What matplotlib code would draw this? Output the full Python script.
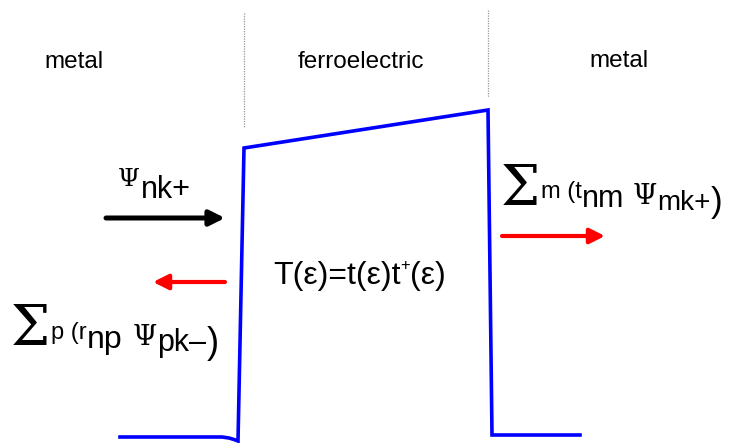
import matplotlib.pyplot as plt

# Potential profile across the metal / ferroelectric / metal junction
profile_x = [120, 222, 229, 234, 238, 244, 488, 492, 580]
profile_y = [437, 437, 438, 439.5, 441, 148, 110, 435, 435]

# Region boundaries (dotted) and region names
boundary_x = [244, 488]
boundary_top = [13, 10]
boundary_bottom = [128, 97]
region_names = ["metal", "ferroelectric", "metal"]
region_x = [74, 361, 619]
region_y = [68, 68, 67]

# Incoming, reflected and transmitted waves
arrow_start = [(106, 218), (225, 282), (502, 236)]
arrow_end = [(225, 218), (153, 282), (605, 236)]
arrow_colors = ["black", "red", "red"]

SERIF = "DejaVu Serif"
SANS = "Liberation Sans"

fig = plt.figure(figsize=(7.37, 4.43), dpi=100)
ax = fig.add_axes([0, 0, 1, 1])
ax.set_xlim(0, 737)
ax.set_ylim(443, 0)
ax.axis("off")
renderer = fig.canvas.get_renderer()

ax.plot(profile_x, profile_y, color="#0000ff", lw=2.6, solid_joinstyle="miter")

for x, y0, y1 in zip(boundary_x, boundary_top, boundary_bottom):
    ax.plot([x, x], [y0, y1], color="#999999", lw=0.9, ls=(0, (1, 1)))

for name, x, y in zip(region_names, region_x, region_y):
    ax.text(x, y, name, family=SANS, fontsize=17.5, ha="center", va="baseline")

for (x0, y0), (x1, y1), c in zip(arrow_start, arrow_end, arrow_colors):
    lw = 3.6 if c == "black" else 3.0
    ax.annotate("", xy=(x1, y1), xytext=(x0, y0),
                arrowprops=dict(arrowstyle="-|>,head_length=0.9,head_width=0.45",
                                color=c, lw=lw, shrinkA=0, shrinkB=0,
                                capstyle="round"))


def write_run(x, y, parts):
    """Lay out text parts one after another: (text, family, size, dy, gap)."""
    for s, fam, size, dy, gap in parts:
        x += gap
        t = ax.text(x, y + dy, s, family=fam, fontsize=size,
                    ha="left", va="baseline")
        x += t.get_window_extent(renderer).width


# incoming wave
write_run(118, 186, [
    ("\u03a8", SERIF, 18, 0, 0),
    ("nk+", SANS, 22, 12, 1),
])

# reflected waves
write_run(11, 345, [
    ("\u03a3", SERIF, 40, 0, 0),
    ("p (r", SANS, 17, -6, 1),
    ("np", SANS, 23, 3, 0),
    ("\u03a8", SERIF, 20, 0, 10),
    ("pk\u2013", SANS, 22, 6, 0),
    (")", SANS, 26, 8, 1),
])

# transmitted waves
write_run(501, 205, [
    ("\u03a3", SERIF, 40, 0, 0),
    ("m (t", SANS, 17, -7, 1),
    ("nm", SANS, 22, 2, 0),
    ("\u03a8", SERIF, 20, -1, 8),
    ("mk+", SANS, 20, 5, 0),
    (")", SANS, 25, 7, 1),
])

# transmission probability
write_run(273, 284, [
    ("T(\u03b5)=t(\u03b5)t", SANS, 23, 0, 0),
    ("+", SANS, 12, -14, 0),
    ("(\u03b5)", SANS, 23, 0, 0),
])

fig.savefig("out.png", dpi=100)
